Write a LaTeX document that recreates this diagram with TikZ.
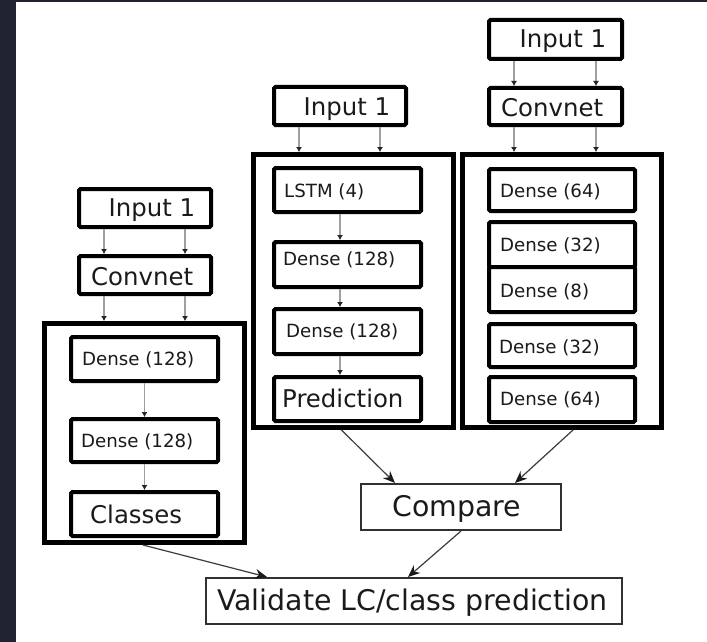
\documentclass[tikz,border=0pt]{standalone}
\usepackage{fontspec}
\setmainfont{DejaVu Sans}
\usetikzlibrary{arrows.meta}
\definecolor{frame}{HTML}{1F2430}
\definecolor{ink}{HTML}{1A1A1A}
\tikzset{
  layer/.style={draw=black, line width=4pt, rounded corners=1.5pt, fill=white, inner sep=0pt},
  group/.style={draw=black, line width=5pt, fill=white, inner sep=0pt},
  plain/.style={draw=ink!90, line width=2pt, fill=white, inner sep=0pt},
  lbl/.style={inner sep=0pt, anchor=base west, text=ink},
  big/.style={lbl, font=\fontsize{24.4}{28}\selectfont},
  small/.style={lbl, font=\fontsize{18.2}{22}\selectfont},
  huge/.style={lbl, font=\fontsize{28.4}{32}\selectfont},
  feed/.style={draw=gray!75, line width=1.2pt, -{Latex[length=5pt,width=6pt,color=black!85]}},
  flow/.style={draw=ink!85, line width=1.2pt, -{Stealth[length=12pt,width=10pt,color=ink]}}
}
\begin{document}
\begin{tikzpicture}[x=1pt,y=-1pt]
% page and dark frame
\fill[white] (0,0) rectangle (707,642);
\fill[frame] (0,0) rectangle (16,642);
\fill[frame] (0,0) rectangle (707,2);
\useasboundingbox (0,0) rectangle (707,642);

% ---- left branch: classifier ----
\node[group, minimum width=200pt, minimum height=219pt] (lgrp) at (144.5,433) {};
\node[layer, minimum width=132pt, minimum height=38pt] (lin) at (145,208) {};
\node[layer, minimum width=132pt, minimum height=38pt] (lcnn) at (145,275) {};
\node[layer, minimum width=147pt, minimum height=44pt] (ld1) at (144.5,359) {};
\node[layer, minimum width=147pt, minimum height=43pt] (ld2) at (144.5,440.5) {};
\node[layer, minimum width=147pt, minimum height=44pt] (lcls) at (144.5,514) {};
\node[big] (lin-t) at (108.5,216) {Input 1};
\node[big] (lcnn-t) at (91,285) {Convnet};
\node[small] (ld1-t) at (82,365) {Dense (128)};
\node[small] (ld2-t) at (81,447) {Dense (128)};
\node[big] (lcls-t) at (90,523) {Classes};

% ---- middle branch: recurrent predictor ----
\node[group, minimum width=200pt, minimum height=273pt] (mgrp) at (353.5,291) {};
\node[layer, minimum width=132pt, minimum height=38pt] (min) at (340,106) {};
\node[layer, minimum width=147pt, minimum height=44pt] (mlstm) at (347.5,190) {};
\node[layer, minimum width=147pt, minimum height=45pt] (md1) at (347.5,264.5) {};
\node[layer, minimum width=147pt, minimum height=45pt] (md2) at (347.5,331.5) {};
\node[layer, minimum width=147pt, minimum height=44pt] (mpred) at (347.5,399) {};
\node[big] (min-t) at (303.5,115) {Input 1};
\node[small] (mlstm-t) at (284,197) {LSTM (4)};
\node[small] (md1-t) at (283,265) {Dense (128)};
\node[small] (md2-t) at (286,337) {Dense (128)};
\node[big] (mpred-t) at (282,407) {Prediction};

% ---- right branch: autoencoder ----
\node[group, minimum width=199pt, minimum height=273pt] (rgrp) at (562,291) {};
\node[layer, minimum width=133pt, minimum height=39pt] (rin) at (555.5,39.5) {};
\node[layer, minimum width=133pt, minimum height=37pt] (rcnn) at (555.5,106.5) {};
\node[layer, minimum width=146pt, minimum height=42pt] (re64) at (562,190) {};
\node[layer, minimum width=146pt, minimum height=45pt] (re32) at (562,244.5) {};
\node[layer, minimum width=146pt, minimum height=45pt] (rz8) at (562,289.5) {};
\node[layer, minimum width=146pt, minimum height=43pt] (rd32) at (562,345.5) {};
\node[layer, minimum width=146pt, minimum height=45pt] (rd64) at (562,399.5) {};
\node[big] (rin-t) at (519.5,48) {Input 1};
\node[big] (rcnn-t) at (501,117) {Convnet};
\node[small] (re64-t) at (500,197) {Dense (64)};
\node[small] (re32-t) at (500,251) {Dense (32)};
\node[small] (rz8-t) at (500,297) {Dense (8)};
\node[small] (rd32-t) at (499,353) {Dense (32)};
\node[small] (rd64-t) at (500,405) {Dense (64)};

% ---- merging stages ----
\node[plain, minimum width=200pt, minimum height=46pt] (cmp) at (461,507) {};
\node[plain, minimum width=416pt, minimum height=46pt] (val) at (414,601) {};
\node[huge] (cmp-t) at (392,516) {Compare};
\node[huge] (val-t) at (217,610) {Validate LC/class prediction};

% ---- feeds into the layer stacks ----
\draw[feed] ([xshift=-41pt]lin.south) -- ([xshift=-41pt]lcnn.north);
\draw[feed] ([xshift=40pt]lin.south) -- ([xshift=40pt]lcnn.north);
\draw[feed] ([xshift=-41pt]lcnn.south) -- ([xshift=-41pt]lcnn.south |- lgrp.north);
\draw[feed] ([xshift=40pt]lcnn.south) -- ([xshift=40pt]lcnn.south |- lgrp.north);
\draw[feed] (ld1.south) -- (ld2.north);
\draw[feed] (ld2.south) -- (lcls.north);

\draw[feed] ([xshift=-41pt]min.south) -- ([xshift=-41pt]min.south |- mgrp.north);
\draw[feed] ([xshift=40pt]min.south) -- ([xshift=40pt]min.south |- mgrp.north);
\draw[feed] ([xshift=-7.5pt]mlstm.south) -- ([xshift=-7.5pt]md1.north);
\draw[feed] ([xshift=-7.5pt]md1.south) -- ([xshift=-7.5pt]md2.north);
\draw[feed] ([xshift=-7.5pt]md2.south) -- ([xshift=-7.5pt]mpred.north);

\draw[feed] ([xshift=-41.5pt]rin.south) -- ([xshift=-41.5pt]rcnn.north);
\draw[feed] ([xshift=40.5pt]rin.south) -- ([xshift=40.5pt]rcnn.north);
\draw[feed] ([xshift=-41.5pt]rcnn.south) -- ([xshift=-41.5pt]rcnn.south |- rgrp.north);
\draw[feed] ([xshift=40.5pt]rcnn.south) -- ([xshift=40.5pt]rcnn.south |- rgrp.north);

% ---- outputs ----
\draw[flow] ([xshift=-1.5pt]lgrp.south) -- ([xshift=-147pt]val.north);
\draw[flow] ([xshift=-12pt]mgrp.south) -- ([xshift=-66pt]cmp.north);
\draw[flow] ([xshift=11pt]rgrp.south) -- ([xshift=54pt]cmp.north);
\draw[flow] (cmp.south) -- ([xshift=-6pt]val.north);
\end{tikzpicture}
\end{document}
